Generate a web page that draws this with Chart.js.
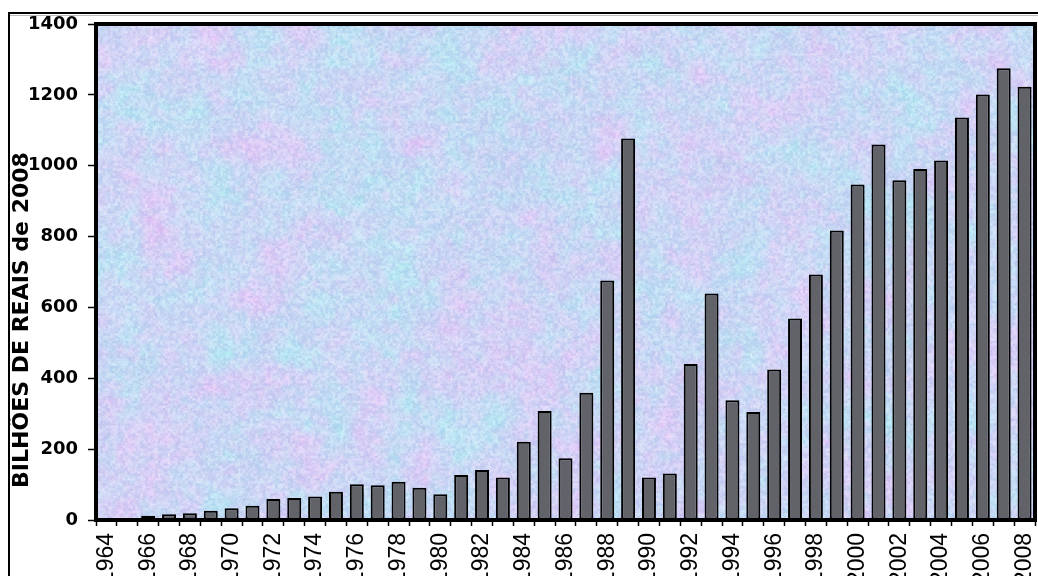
<!DOCTYPE html>
<html>
<head>
<meta charset="utf-8">
<script src="https://cdn.jsdelivr.net/npm/chart.js@4.4.1/dist/chart.umd.min.js"></script>
<style>
  html, body { margin: 0; padding: 0; background: #fff; overflow: hidden; }
  #wrap { width: 1038px; height: 576px; }
</style>
</head>
<body>
<div id="wrap"><canvas id="barChart" width="1038" height="576"></canvas></div>
<script>
// anos (categorias)
const years = ['1964', '1965', '1966', '1967', '1968', '1969', '1970', '1971', '1972', '1973',
  '1974', '1975', '1976', '1977', '1978', '1979', '1980', '1981', '1982', '1983',
  '1984', '1985', '1986', '1987', '1988', '1989', '1990', '1991', '1992', '1993',
  '1994', '1995', '1996', '1997', '1998', '1999', '2000', '2001', '2002', '2003',
  '2004', '2005', '2006', '2007', '2008'];

// bilhões de reais de 2008
const values = [0, 5, 12, 16, 19, 26, 33, 40, 59, 62,
  66, 80, 101, 98, 108, 91, 73, 127, 141, 120,
  221, 308, 174, 359, 676, 1077, 120, 131, 440, 639,
  338, 305, 425, 569, 693, 817, 947, 1060, 959, 991,
  1015, 1136, 1201, 1275, 1223];

const yTicks = [0, 200, 400, 600, 800, 1000, 1200, 1400];
const yTitle = 'BILHÕES DE REAIS de 2008';

// textura de fundo (ruido deterministico)
function hash(ix, iy, seed) {
  const h = Math.sin(ix * 12.9898 + iy * 78.233 + seed * 37.719) * 43758.5453;
  return h - Math.floor(h);
}
function noise(x, y, seed) {
  const ix = Math.floor(x), iy = Math.floor(y);
  const fx = x - ix, fy = y - iy;
  const sx = fx * fx * (3 - 2 * fx), sy = fy * fy * (3 - 2 * fy);
  const a = hash(ix, iy, seed), b = hash(ix + 1, iy, seed);
  const c = hash(ix, iy + 1, seed), d = hash(ix + 1, iy + 1, seed);
  return a + (b - a) * sx + (c - a) * sy + (a - b - c + d) * sx * sy;
}
function fbm(x, y, seed) {
  return 0.45 * noise(x, y, seed) + 0.3 * noise(x * 2.3, y * 2.3, seed + 1) + 0.25 * noise(x * 5.1, y * 5.1, seed + 2);
}
let texture = null;
function makeTexture(w, h) {
  const c = document.createElement('canvas');
  c.width = w; c.height = h;
  const g = c.getContext('2d');
  const img = g.createImageData(w, h);
  for (let y = 0; y < h; y++) {
    for (let x = 0; x < w; x++) {
      const pink = fbm(x / 40, y / 40, 1) - 0.5;
      const cyan = fbm(x / 30, y / 30, 5) - 0.5;
      const fine = noise(x / 2.5, y / 2.5, 11) - 0.5;
      const grain = hash(x, y, 9) - 0.5;
      const k = (y * w + x) * 4;
      img.data[k] = 203 + pink * 45 - cyan * 30 + fine * 30 + grain * 16;
      img.data[k + 1] = 214 - pink * 22 + cyan * 30 + fine * 24 + grain * 12;
      img.data[k + 2] = 244 + pink * 6 + fine * 10 + grain * 6;
      img.data[k + 3] = 255;
    }
  }
  g.putImageData(img, 0, 0);
  return c;
}

const decor = {
  id: 'decor',
  beforeDraw(chart) {
    const ctx = chart.ctx;
    ctx.save();
    ctx.fillStyle = '#fff';
    ctx.fillRect(0, 0, chart.width, chart.height);
    // moldura externa fina
    ctx.strokeStyle = '#000';
    ctx.lineWidth = 2;
    ctx.beginPath();
    ctx.moveTo(9, chart.height);
    ctx.lineTo(9, 13);
    ctx.lineTo(chart.width, 13);
    ctx.stroke();
    ctx.strokeStyle = '#bbb';
    ctx.lineWidth = 1;
    ctx.beginPath();
    ctx.moveTo(10, 15.5);
    ctx.lineTo(chart.width, 15.5);
    ctx.stroke();
    ctx.restore();
  },
  beforeDatasetsDraw(chart) {
    const a = chart.chartArea;
    if (!texture) texture = makeTexture(Math.ceil(a.right - a.left), Math.ceil(a.bottom - a.top));
    chart.ctx.drawImage(texture, a.left, a.top);
  },
  afterDraw(chart) {
    const a = chart.chartArea;
    const ctx = chart.ctx;
    ctx.save();
    ctx.strokeStyle = '#000';
    ctx.lineWidth = 4;
    ctx.strokeRect(a.left, a.top, a.right - a.left, a.bottom - a.top);
    // titulo do eixo y
    ctx.translate(22, 320);
    ctx.rotate(-Math.PI / 2);
    ctx.fillStyle = '#000';
    ctx.font = 'bold 22px "DejaVu Sans"';
    ctx.textAlign = 'center';
    ctx.textBaseline = 'middle';
    ctx.fillText(yTitle, 0, 0);
    ctx.restore();
  }
};

const ctx = document.getElementById('barChart').getContext('2d');
const barChart = new Chart(ctx, {
  type: 'bar',
  data: {
    labels: years,
    datasets: [
      {
        data: values,
        backgroundColor: '#626369',
        borderColor: '#000',
        borderWidth: 2,
        borderSkipped: false,
        categoryPercentage: 1,
        barPercentage: 0.67,
      },
    ],
  },
  options: {
    responsive: false,
    animation: false,
    layout: { padding: { top: 24, right: 3, left: 0, bottom: 0 } },
    plugins: {
      legend: { display: false },
      tooltip: { enabled: false },
    },
    scales: {
      x: {
        afterFit: (scale) => {
          scale.height = 56;
          scale.paddingLeft = 0;
          scale.paddingRight = 0;
        },
        grid: { drawOnChartArea: false, tickLength: 6, tickWidth: 1.5, tickColor: '#000', offset: true },
        border: { display: false },
        ticks: {
          autoSkip: false,
          minRotation: 90,
          maxRotation: 90,
          padding: 7,
          color: '#000',
          font: { family: '"Liberation Sans", Arial', size: 23 },
          callback: (val, i) => (i % 2 === 0 ? years[i] : ''),
        },
      },
      y: {
        min: 0,
        max: 1400,
        afterFit: (scale) => {
          scale.width = 96;
          scale.paddingTop = 0;
          scale.paddingBottom = 0;
        },
        afterBuildTicks: (scale) => { scale.ticks = yTicks.map((v) => ({ value: v })); },
        grid: { drawOnChartArea: false, tickLength: 8, tickWidth: 1.5, tickColor: '#000' },
        border: { display: false },
        ticks: {
          padding: 10,
          color: '#000',
          font: { family: '"DejaVu Sans"', size: 18, weight: 'bold' },
          callback: (val) => String(val),
        },
      },
    },
  },
  plugins: [decor],
});
</script>
</body>
</html>
